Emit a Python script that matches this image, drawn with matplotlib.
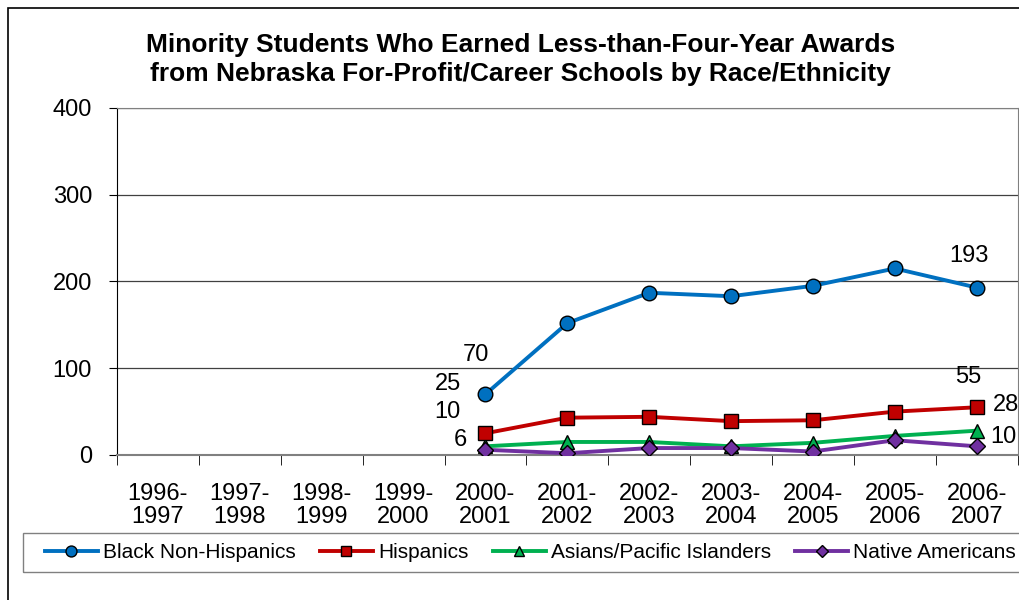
import numpy as np
import matplotlib.pyplot as plt
from matplotlib.patches import Rectangle

plt.rcParams['font.family'] = ['Liberation Sans', 'DejaVu Sans']

years = ["1996-\n1997", "1997-\n1998", "1998-\n1999", "1999-\n2000", "2000-\n2001",
         "2001-\n2002", "2002-\n2003", "2003-\n2004", "2004-\n2005", "2005-\n2006",
         "2006-\n2007"]
black = [70, 152, 187, 183, 195, 215, 193]
hispanic = [25, 43, 44, 39, 40, 50, 55]
asian = [10, 15, 15, 10, 14, 22, 28]
native = [6, 2, 8, 8, 4, 17, 10]
title_lines = ["Minority Students Who Earned Less-than-Four-Year Awards",
               "from Nebraska For-Profit/Career Schools by Race/Ethnicity"]

fig = plt.figure(figsize=(10.2, 6), dpi=100)
ax = fig.add_axes([0.1147, 0.2417, 0.883, 0.5783])

x_all = np.arange(len(years))
x = x_all[4:]

ax.plot(x, black, color='#0070C0', lw=2.8, marker='o', ms=10.5, mfc='#0070C0', mec='black', mew=1, label='Black Non-Hispanics', zorder=5)
ax.plot(x, hispanic, color='#C00000', lw=2.8, marker='s', ms=9.5, mfc='#C00000', mec='black', mew=1, label='Hispanics', zorder=4)
ax.plot(x, asian, color='#00B050', lw=2.8, marker='^', ms=9.5, mfc='#00B050', mec='black', mew=1, label='Asians/Pacific Islanders', zorder=3)
ax.plot(x, native, color='#7030A0', lw=2.8, marker='D', ms=8.5, mfc='#7030A0', mec='black', mew=1, label='Native Americans', zorder=4)

# data labels at first and last points (Excel placed them a bit oddly)
fs = 17
ax.text(x[0] - 0.12, black[0] + 45, str(black[0]), fontsize=fs, ha='center', va='center')
ax.text(x[0] - 0.46, hispanic[0] + 57, str(hispanic[0]), fontsize=fs, ha='center', va='center')
ax.text(x[0] - 0.46, asian[0] + 40, str(asian[0]), fontsize=fs, ha='center', va='center')
ax.text(x[0] - 0.31, native[0] + 11, str(native[0]), fontsize=fs, ha='center', va='center')
ax.text(x[-1] - 0.10, black[-1] + 36, str(black[-1]), fontsize=fs, ha='center', va='center')
ax.text(x[-1] - 0.10, hispanic[-1] + 35, str(hispanic[-1]), fontsize=fs, ha='center', va='center')
ax.text(x[-1] + 0.36, asian[-1] + 30, str(asian[-1]), fontsize=fs, ha='center', va='center')
ax.text(x[-1] + 0.32, native[-1] + 11, str(native[-1]), fontsize=fs, ha='center', va='center')

ax.set_xlim(-0.5, len(years) - 0.5)
ax.set_ylim(0, 400)
ax.set_yticks([0, 100, 200, 300, 400])
ax.tick_params(axis='y', labelsize=fs, direction='out', length=6, color='black', pad=12)
ax.set_xticks(x_all)
ax.set_xticklabels(years, fontsize=fs, linespacing=1.1)
ax.tick_params(axis='x', which='major', length=0, pad=20)
ax.set_xticks(np.arange(-0.5, len(years)), minor=True)
ax.tick_params(axis='x', which='minor', direction='out', length=7, color='black')
ax.grid(axis='y', color='#404040', lw=0.9)
ax.set_axisbelow(True)
for s in ['top', 'right']:
    ax.spines[s].set_color('#808080')
ax.spines['left'].set_color('black')
ax.spines['bottom'].set_color('#808080')
ax.spines['bottom'].set_linewidth(1.5)

# title, two lines placed separately
fig.text(0.51, 1 - 45 / 600, title_lines[0], fontsize=19, fontweight='bold', ha='center', va='center')
fig.text(0.51, 1 - 74 / 600, title_lines[1], fontsize=19, fontweight='bold', ha='center', va='center')

# legend without its own frame, box drawn separately
leg = fig.legend(loc='center left', bbox_to_anchor=(0.044, 0.079), ncol=4, fontsize=15,
                 frameon=False, handlelength=2.55, columnspacing=1.15,
                 handletextpad=0.25, borderpad=0, borderaxespad=0, markerscale=0.75)
fig.patches.append(Rectangle((23 / 1020, 28 / 600), 1.0, 39 / 600, transform=fig.transFigure,
                             fill=False, edgecolor='#808080', lw=1))

fig.patches.append(Rectangle((0.008, -0.01), 1.0, 0.997, transform=fig.transFigure,
                             fill=False, edgecolor='black', lw=1.2))

fig.savefig('out.png', dpi=100)
